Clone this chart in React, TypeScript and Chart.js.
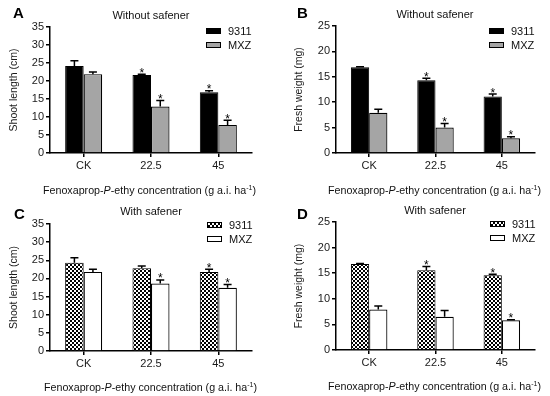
import React, { useEffect, useRef } from 'react';
import { Chart, registerables } from 'chart.js';
Chart.register(...registerables);

const categories = ['CK', '22.5', '45'];
const seriesNames = ['9311', 'MXZ'];

const shootTicks = [0, 5, 10, 15, 20, 25, 30, 35];
const weightTicks = [0, 5, 10, 15, 20, 25];

// A: shoot length, without safener
const shootNoSaf9311 = [24.2, 21.7, 16.9];
const shootNoSaf9311Err = [1.4, 0.2, 0.4];
const shootNoSaf9311Sig = [false, true, true];
const shootNoSafMXZ = [21.9, 12.9, 7.8];
const shootNoSafMXZErr = [0.6, 1.7, 1.3];
const shootNoSafMXZSig = [false, true, true];

// B: fresh weight, without safener
const weightNoSaf9311 = [16.9, 14.3, 11.1];
const weightNoSaf9311Err = [0.1, 0.4, 0.5];
const weightNoSaf9311Sig = [false, true, true];
const weightNoSafMXZ = [7.9, 5.0, 2.9];
const weightNoSafMXZErr = [0.7, 0.8, 0.3];
const weightNoSafMXZSig = [false, true, true];

// C: shoot length, with safener
const shootSaf9311 = [24.3, 22.8, 21.8];
const shootSaf9311Err = [1.4, 0.6, 0.7];
const shootSaf9311Sig = [false, false, true];
const shootSafMXZ = [21.8, 18.6, 17.4];
const shootSafMXZErr = [0.7, 1.0, 0.9];
const shootSafMXZSig = [false, true, true];

// D: fresh weight, with safener
const weightSaf9311 = [16.8, 15.6, 14.6];
const weightSaf9311Err = [0.1, 0.7, 0.2];
const weightSaf9311Sig = [false, true, true];
const weightSafMXZ = [7.9, 6.5, 5.8];
const weightSafMXZErr = [0.7, 1.2, 0.1];
const weightSafMXZSig = [false, false, true];

const FONT = '"Liberation Sans", Arial, Helvetica, sans-serif';
const PW = 275;
const PH = 198;

type Panel = {
  letter: string;
  title: string;
  yTitle: string;
  ticks: number[];
  v1: number[]; e1: number[]; s1: boolean[];
  v2: number[]; e2: number[]; s2: boolean[];
  safener: boolean;
  ox: number; oy: number;
  area: { left: number; top: number; right: number; bottom: number };
  yTitlePad: number;
  letterPos: [number, number];
  titleX: number; titleY: number;
  legendX: number; legendY: number;
  xTitleX: number; xTitleY: number;
};

const panels: Panel[] = [
  {
    letter: 'A', title: 'Without safener', yTitle: 'Shoot length (cm)', ticks: shootTicks,
    v1: shootNoSaf9311, e1: shootNoSaf9311Err, s1: shootNoSaf9311Sig,
    v2: shootNoSafMXZ, e2: shootNoSafMXZErr, s2: shootNoSafMXZSig,
    safener: false, ox: 0, oy: 0,
    area: { left: 50, top: 27, right: 252, bottom: 153 }, yTitlePad: 8,
    letterPos: [13, 5], titleX: 151, titleY: 15, legendX: 206, legendY: 31, xTitleX: 43, xTitleY: 190,
  },
  {
    letter: 'B', title: 'Without safener', yTitle: 'Fresh weight (mg)', ticks: weightTicks,
    v1: weightNoSaf9311, e1: weightNoSaf9311Err, s1: weightNoSaf9311Sig,
    v2: weightNoSafMXZ, e2: weightNoSafMXZErr, s2: weightNoSafMXZSig,
    safener: false, ox: 275, oy: 0,
    area: { left: 61, top: 26, right: 260, bottom: 153 }, yTitlePad: 18,
    letterPos: [22, 5], titleX: 160, titleY: 14, legendX: 214, legendY: 31, xTitleX: 53, xTitleY: 190,
  },
  {
    letter: 'C', title: 'With safener', yTitle: 'Shoot length (cm)', ticks: shootTicks,
    v1: shootSaf9311, e1: shootSaf9311Err, s1: shootSaf9311Sig,
    v2: shootSafMXZ, e2: shootSafMXZErr, s2: shootSafMXZSig,
    safener: true, ox: 0, oy: 198,
    area: { left: 50, top: 26, right: 252, bottom: 153 }, yTitlePad: 8,
    letterPos: [14, 8], titleX: 151, titleY: 13, legendX: 207, legendY: 27, xTitleX: 44, xTitleY: 189,
  },
  {
    letter: 'D', title: 'With safener', yTitle: 'Fresh weight (mg)', ticks: weightTicks,
    v1: weightSaf9311, e1: weightSaf9311Err, s1: weightSaf9311Sig,
    v2: weightSafMXZ, e2: weightSafMXZErr, s2: weightSafMXZSig,
    safener: true, ox: 275, oy: 198,
    area: { left: 61, top: 24, right: 260, bottom: 152 }, yTitlePad: 18,
    letterPos: [22, 8], titleX: 160, titleY: 12, legendX: 215, legendY: 26, xTitleX: 53, xTitleY: 188,
  },
];

function makeChecker(): CanvasPattern | string {
  const c = document.createElement('canvas');
  c.width = 4; c.height = 4;
  const g = c.getContext('2d');
  if (!g) return '#555';
  g.fillStyle = '#fff';
  g.fillRect(0, 0, 4, 4);
  g.fillStyle = '#000';
  g.fillRect(0, 0, 2, 2);
  g.fillRect(2, 2, 2, 2);
  const p = g.createPattern(c, 'repeat');
  return p || '#555';
}

const errorBarPlugin = {
  id: 'errorBars',
  afterDatasetsDraw(chart: any) {
    const ctx = chart.ctx;
    const yScale = chart.scales.y;
    ctx.save();
    chart.data.datasets.forEach((ds: any, di: number) => {
      const meta = chart.getDatasetMeta(di);
      meta.data.forEach((bar: any, i: number) => {
        const v = ds.data[i];
        const err = ds.errors[i];
        const yTop = yScale.getPixelForValue(v + err);
        const yBar = yScale.getPixelForValue(v);
        ctx.strokeStyle = '#000';
        ctx.lineWidth = 1.5;
        ctx.beginPath();
        ctx.moveTo(bar.x, yBar);
        ctx.lineTo(bar.x, yTop);
        ctx.moveTo(bar.x - 4, yTop);
        ctx.lineTo(bar.x + 4, yTop);
        ctx.stroke();
        if (ds.sig[i]) {
          ctx.fillStyle = '#000';
          ctx.font = `12px ${FONT}`;
          ctx.textAlign = 'center';
          ctx.textBaseline = 'alphabetic';
          ctx.fillText('*', bar.x, yTop + 2.5);
        }
      });
    });
    ctx.restore();
  },
};

function PanelChart({ p }: { p: Panel }) {
  const ref = useRef<HTMLCanvasElement | null>(null);
  useEffect(() => {
    if (!ref.current) return;
    const checker = makeChecker();
    const a = p.area;
    const chart = new Chart(ref.current, {
      type: 'bar',
      data: {
        labels: categories,
        datasets: [
          {
            label: seriesNames[0],
            data: p.v1,
            errors: p.e1,
            sig: p.s1,
            backgroundColor: p.safener ? checker : '#000',
            borderColor: '#000',
            borderWidth: 1,
          } as any,
          {
            label: seriesNames[1],
            data: p.v2,
            errors: p.e2,
            sig: p.s2,
            backgroundColor: p.safener ? '#fff' : '#a5a5a5',
            borderColor: '#000',
            borderWidth: 1.2,
          } as any,
        ],
      },
      options: {
        animation: false,
        responsive: false,
        devicePixelRatio: 1,
        layout: { padding: { left: 0, top: a.top, right: PW - a.right, bottom: 0 } },
        datasets: { bar: { categoryPercentage: 0.55, barPercentage: 1.0 } },
        plugins: { legend: { display: false }, tooltip: { enabled: false }, title: { display: false } },
        scales: {
          x: {
            type: 'category',
            offset: true,
            afterFit: (s: any) => { s.height = PH - a.bottom; },
            grid: { display: true, drawOnChartArea: false, drawTicks: true, tickLength: 4, color: '#000', lineWidth: 1.5, offset: false },
            border: { display: true, color: '#000', width: 1.5 },
            ticks: { color: '#1a1a1a', font: { family: FONT, size: 11 }, padding: 2, maxRotation: 0 },
          },
          y: {
            min: 0,
            max: p.ticks[p.ticks.length - 1],
            afterFit: (s: any) => { s.width = a.left; },
            afterBuildTicks: (s: any) => { s.ticks = p.ticks.map((v) => ({ value: v })); },
            grid: { display: true, drawOnChartArea: false, drawTicks: true, tickLength: 4, color: '#000', lineWidth: 1.5 },
            border: { display: true, color: '#000', width: 1.5 },
            ticks: { color: '#1a1a1a', font: { family: FONT, size: 11 }, padding: 2 },
            title: {
              display: true,
              text: p.yTitle,
              color: '#1a1a1a',
              font: { family: FONT, size: 10.5 },
              padding: { top: p.yTitlePad, bottom: 0 },
            },
          },
        },
      } as any,
      plugins: [errorBarPlugin],
    });
    return () => chart.destroy();
  }, [p]);

  const txt: React.CSSProperties = { position: 'absolute', fontFamily: FONT, color: '#111', whiteSpace: 'nowrap', lineHeight: '12px' };
  const box1: React.CSSProperties = p.safener
    ? { background: 'repeating-conic-gradient(#000 0 25%, #fff 0 50%) 0 0 / 4px 4px' }
    : { background: '#000' };
  const box2: React.CSSProperties = p.safener ? { background: '#fff' } : { background: '#a5a5a5' };
  const boxBase: React.CSSProperties = { position: 'absolute', width: 15, height: 6, border: '1px solid #000', boxSizing: 'border-box' };

  return (
    <div style={{ position: 'absolute', left: p.ox, top: p.oy, width: PW, height: PH }}>
      <canvas ref={ref} width={PW} height={PH} style={{ position: 'absolute', left: 0, top: 0, width: PW, height: PH }} />
      <div style={{ ...txt, left: p.letterPos[0], top: p.letterPos[1], fontSize: 15, lineHeight: '15px', fontWeight: 'bold', color: '#000' }}>{p.letter}</div>
      <div style={{ ...txt, left: p.titleX, top: p.titleY - 6, fontSize: 11, transform: 'translateX(-50%)' }}>{p.title}</div>
      <div style={{ ...boxBase, ...box1, left: p.legendX, top: p.legendY - 3 }} />
      <div style={{ ...txt, left: p.legendX + 22, top: p.legendY - 6, fontSize: 11 }}>{seriesNames[0]}</div>
      <div style={{ ...boxBase, ...box2, left: p.legendX, top: p.legendY + 11 }} />
      <div style={{ ...txt, left: p.legendX + 22, top: p.legendY + 8, fontSize: 11 }}>{seriesNames[1]}</div>
      <div style={{ ...txt, left: p.xTitleX, top: p.xTitleY - 6, fontSize: 10.7 }}>
        Fenoxaprop-<i>P</i>-ethy concentration (g a.i. ha
        <span style={{ fontSize: 7, position: 'relative', top: -4 }}>-1</span>)
      </div>
    </div>
  );
}

export default function App() {
  return (
    <div style={{ position: 'absolute', left: 0, top: 0, width: 550, height: 396, background: '#fff' }}>
      {panels.map((p) => (
        <PanelChart key={p.letter} p={p} />
      ))}
    </div>
  );
}
